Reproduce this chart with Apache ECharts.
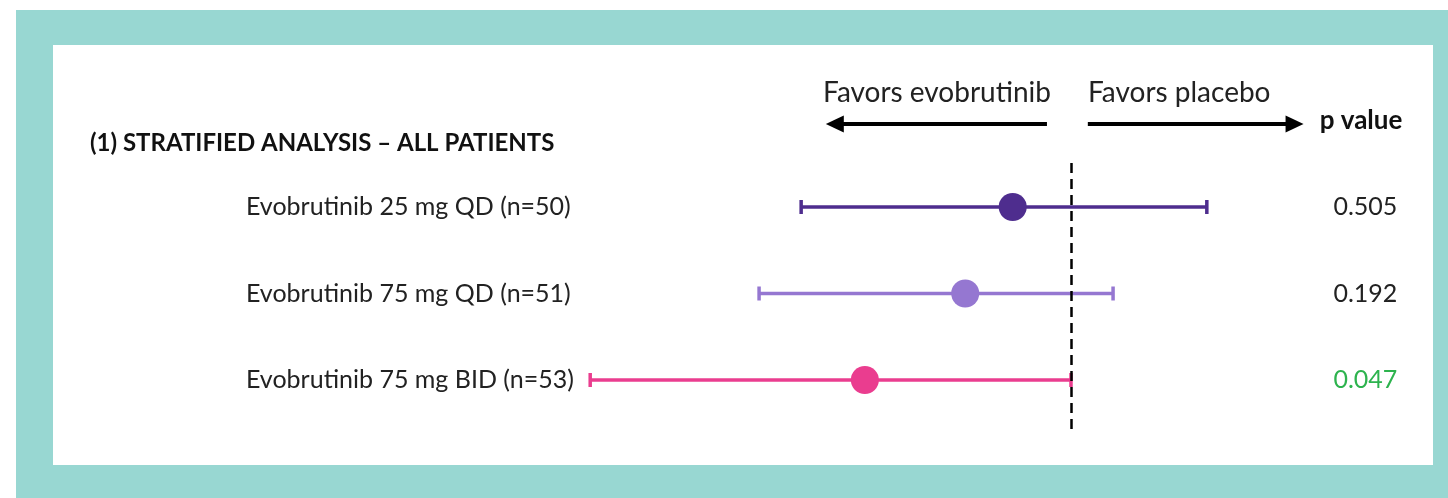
<!DOCTYPE html>
<html>
<head>
<meta charset="utf-8">
<script src="https://cdn.jsdelivr.net/npm/echarts@6/dist/echarts.min.js"></script>
<style>
  html, body { margin: 0; padding: 0; background: #fff; }
  #chart { width: 1448px; height: 498px; }
</style>
</head>
<body>
<div id="chart"></div>
<script>
// forest plot data (rate ratio, 1 = no effect)
var categories = ['Evobrutinib 25 mg QD (n=50)', 'Evobrutinib 75 mg QD (n=51)', 'Evobrutinib 75 mg BID (n=53)']
var rowPos = [1, 2, 3]
var estimates = [0.903, 0.824, 0.657]
var lower = [0.551, 0.481, 0.200]
var upper = [1.226, 1.070, 1.000]
var pValues = ['0.505', '0.192', '0.047']
var colors = ['#4e2d8e', '#9577d1', '#ea3d8f']

var FONT = 'Lato'

var myChart = echarts.init(document.getElementById('chart'))

var option = {
  backgroundColor: '#ffffff',
  animation: false,
  graphic: [
    { type: 'rect', z: -10, shape: { x: 16, y: 10, width: 1432, height: 488 }, style: { fill: '#98d7d2' } },
    { type: 'rect', z: -9, shape: { x: 53, y: 45, width: 1380, height: 420 }, style: { fill: '#ffffff' } },
    {
      type: 'text', x: 90, y: 143,
      style: { text: '(1) STRATIFIED ANALYSIS \u2013 ALL PATIENTS', font: 'bold 24px ' + FONT, fill: '#111', verticalAlign: 'middle' }
    },
    {
      type: 'text', x: 1051, y: 93,
      style: { text: 'Favors evobrutinib', font: '28px ' + FONT, fill: '#222', align: 'right', verticalAlign: 'middle' }
    },
    {
      type: 'text', x: 1088, y: 93,
      style: { text: 'Favors placebo', font: '28px ' + FONT, fill: '#222', align: 'left', verticalAlign: 'middle' }
    },
    {
      type: 'text', x: 1361, y: 121,
      style: { text: 'p value', font: 'bold 26px ' + FONT, fill: '#111', align: 'center', verticalAlign: 'middle' }
    }
  ],
  grid: { left: 470, right: 136.6, top: 120.5, bottom: 66.1 },
  xAxis: { type: 'value', min: 0, max: 1.4, show: false },
  yAxis: [
    {
      type: 'value', min: 0, max: 3.6, inverse: true,
      axisLine: { show: false }, axisTick: { show: false }, splitLine: { show: false },
      axisLabel: {
        customValues: rowPos,
        align: 'left', margin: 224,
        fontFamily: FONT, fontSize: 25, color: '#222',
        formatter: function (v) { return categories[rowPos.indexOf(v)] || '' }
      }
    },
    {
      type: 'value', min: 0, max: 3.6, inverse: true, position: 'right',
      axisLine: { show: false }, axisTick: { show: false }, splitLine: { show: false },
      axisLabel: {
        customValues: rowPos,
        align: 'center', margin: 54,
        fontFamily: FONT, fontSize: 25, color: '#222',
        formatter: function (v) {
          var p = pValues[rowPos.indexOf(v)]
          if (p === undefined) return ''
          return parseFloat(p) < 0.05 ? '{g|' + p + '}' : p
        },
        rich: { g: { color: '#2db34e', fontFamily: FONT, fontSize: 25 } }
      }
    }
  ],
  series: [
    {
      // confidence intervals
      type: 'custom',
      data: categories.map(function (c, i) { return [lower[i], estimates[i], upper[i], rowPos[i]] }),
      renderItem: function (params, api) {
        var y = api.value(3)
        var a = api.coord([api.value(0), y])
        var b = api.coord([api.value(2), y])
        var col = colors[params.dataIndex]
        var st = { stroke: col, lineWidth: 3.5 }
        return {
          type: 'group',
          children: [
            { type: 'line', shape: { x1: a[0], y1: a[1], x2: b[0], y2: b[1] }, style: st },
            { type: 'line', shape: { x1: a[0], y1: a[1] - 7, x2: a[0], y2: a[1] + 7 }, style: st },
            { type: 'line', shape: { x1: b[0], y1: b[1] - 7, x2: b[0], y2: b[1] + 7 }, style: st }
          ]
        }
      },
      z: 2
    },
    {
      type: 'scatter',
      data: estimates.map(function (v, i) { return [v, rowPos[i]] }),
      symbolSize: 28,
      itemStyle: { color: function (p) { return colors[p.dataIndex] }, opacity: 1 },
      z: 3,
      markLine: {
        silent: true,
        label: { show: false },
        symbol: ['none', 'none'],
        lineStyle: { color: '#000', type: [10, 6], width: 2.5 },
        data: [[{ coord: [1, 0.49] }, { coord: [1, 3.6] }]]
      }
    },
    {
      // direction arrows
      type: 'scatter',
      data: [],
      markLine: {
        silent: true,
        label: { show: false },
        symbol: ['none', 'triangle'],
        symbolSize: [17, 18],
        lineStyle: { color: '#000', type: 'solid', width: 4 },
        data: [
          [{ coord: [0.96, 0.04] }, { coord: [0.607, 0.04] }],
          [{ coord: [1.028, 0.04] }, { coord: [1.372, 0.04] }]
        ]
      }
    }
  ]
}
myChart.setOption(option)
</script>
</body>
</html>
